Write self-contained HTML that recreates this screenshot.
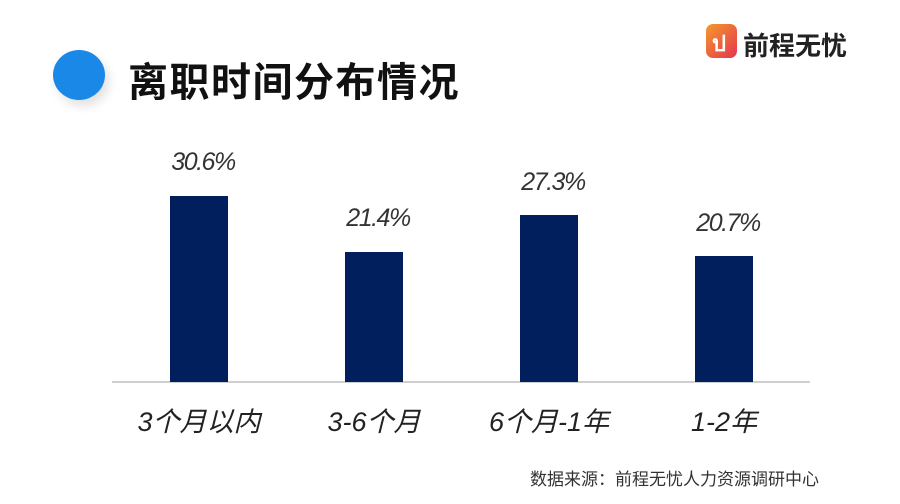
<!DOCTYPE html>
<html><head><meta charset="utf-8"><style>
body{margin:0;width:900px;height:504px;background:#fff;overflow:hidden;position:relative;font-family:"Liberation Sans","Noto Sans CJK SC",sans-serif}
.a{position:absolute}
.bar{position:absolute;background:#001f5c;width:58px}
.v{position:absolute;font-size:25px;font-style:italic;color:#333;width:140px;text-align:center;letter-spacing:-1.5px}
.c{position:absolute;font-size:27px;font-style:italic;color:#222;width:180px;text-align:center}
</style></head><body>
<div class="a" style="left:53px;top:50px;width:52px;height:50px;border-radius:50%;background:#1a88e6;box-shadow:4px 6px 10px rgba(0,0,0,0.12)"></div>
<div class="a" style="left:128px;top:50px;font-size:40px;font-weight:bold;color:#111;letter-spacing:1.5px">离职时间分布情况</div>
<div class="a" style="left:706px;top:24px;width:31px;height:34px;border-radius:7px;background:linear-gradient(135deg,#f39a2c,#e6344f)"></div>
<div class="a" style="left:712px;top:26px;color:#fff;font-size:22px;font-weight:bold">ป</div>
<div class="a" style="left:743px;top:26px;font-size:26px;font-weight:bold;color:#222">前程无忧</div>
<div class="a" style="left:112px;top:381px;width:698px;height:2px;background:#cfcfcf"></div>
<div class="bar" style="left:170px;top:196px;height:186px"></div>
<div class="bar" style="left:345px;top:252px;height:130px"></div>
<div class="bar" style="left:520px;top:215px;height:167px"></div>
<div class="bar" style="left:695px;top:256px;height:126px"></div>
<div class="v" style="left:133px;top:148px">30.6%</div>
<div class="v" style="left:308px;top:204px">21.4%</div>
<div class="v" style="left:483px;top:168px">27.3%</div>
<div class="v" style="left:658px;top:209px">20.7%</div>
<div class="c" style="left:109px;top:400px">3个月以内</div>
<div class="c" style="left:284px;top:400px">3-6个月</div>
<div class="c" style="left:459px;top:400px">6个月-1年</div>
<div class="c" style="left:634px;top:400px">1-2年</div>
<div class="a" style="left:530px;top:465px;font-size:17px;color:#333">数据来源：前程无忧人力资源调研中心</div>
</body></html>
